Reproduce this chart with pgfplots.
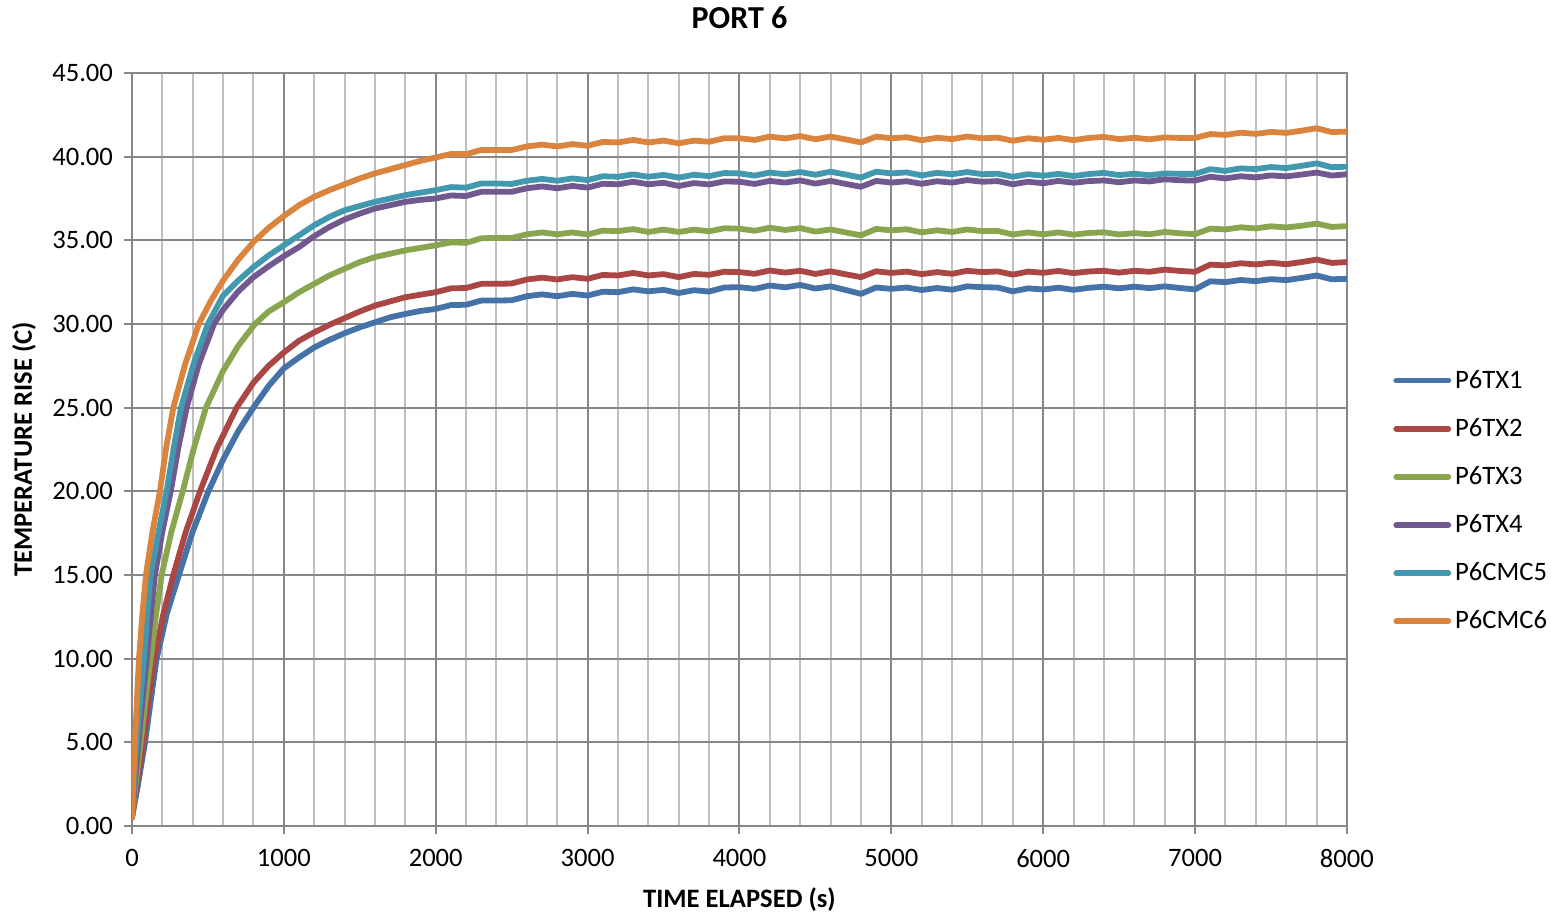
\documentclass[border=0pt]{standalone}
\usepackage{fontspec}
\setmainfont{Carlito}
\usepackage{pgfplots}
\pgfplotsset{compat=1.18}

\definecolor{sTX1}{HTML}{4572A7}
\definecolor{sTX2}{HTML}{AA4643}
\definecolor{sTX3}{HTML}{89A54E}
\definecolor{sTX4}{HTML}{71588F}
\definecolor{sCMC5}{HTML}{4198AF}
\definecolor{sCMC6}{HTML}{DB843D}
\definecolor{gridmajor}{HTML}{878787}
\definecolor{gridminor}{HTML}{BFBFBF}

\begin{document}
\begin{tikzpicture}
\begin{axis}[
    name=ax,
    at={(0,0)}, anchor=south west,
    scale only axis,
    width=607.5pt, height=376.5pt,
    xmin=0, xmax=8000, ymin=0, ymax=45,
    xtick distance=1000, ytick distance=5,
    minor x tick num=4,
    grid=major, xminorgrids=true,
    major grid style={draw=gridmajor, line width=1pt},
    minor grid style={draw=gridminor, line width=1pt},
    axis line style={draw=gridmajor, line width=1pt},
    tick style={draw=gridmajor, line width=1pt},
    major tick length=4pt, minor tick length=0pt,
    tick align=outside, tick pos=left,
    ticklabel style={font=\fontsize{13.3}{16}\selectfont},
    /pgf/number format/assume math mode=true,
    yticklabel style={xshift=-2pt, /pgf/number format/.cd, fixed, fixed zerofill, precision=2},
    xticklabel style={yshift=-4pt, /pgf/number format/1000 sep={}},
    title={PORT 6},
    title style={font=\fontsize{16}{19}\selectfont\bfseries, inner sep=0pt, at={(axis description cs:0.5,1)}, anchor=center, yshift=21.5pt},
    xlabel={TIME ELAPSED (s)},
    xlabel style={font=\fontsize{13.3}{16}\selectfont\bfseries, inner sep=0pt, at={(axis description cs:0.5,-0.0983)}, anchor=center},
    ylabel={TEMPERATURE RISE (C)},
    ylabel style={font=\fontsize{13.3}{16}\selectfont\bfseries, inner sep=0pt, at={(axis description cs:-0.0889,0.5)}, anchor=center},
    every axis plot/.append style={line width=2.9pt, line join=round, line cap=round},
    legend style={draw=none, fill=none, at={(1.0379,0.4316)}, anchor=west,
        font=\fontsize{13.3}{16}\selectfont, row sep=9.6pt, inner sep=0pt},
    legend cell align=left,
    legend image code/.code={\draw[#1] (0pt,0pt) -- (26pt,0pt);},
]
% P6TX1
\addplot[sTX1] coordinates {
(0,0.5)(40,2.5)(86,5)(125,7.6)(162,10)(230,12.7)(309,15)(400,17.6)(503,20)(600,21.9)(700,23.6)(799,25)(900,26.3)(1000,27.35)(1100,28.0)(1200,28.6)(1300,29.05)(1400,29.45)(1500,29.8)(1600,30.1)(1700,30.4)(1800,30.6)(1900,30.78)
(2000,30.9)(2100,31.13)(2200,31.15)(2300,31.4)(2400,31.4)(2500,31.42)(2600,31.66)(2700,31.77)(2800,31.66)(2900,31.8)(3000,31.7)(3100,31.93)(3200,31.9)(3300,32.07)(3400,31.95)(3500,32.04)(3600,31.85)(3700,32.02)(3800,31.94)(3900,32.18)(4000,32.2)(4100,32.1)(4200,32.3)(4300,32.19)(4400,32.33)(4500,32.12)(4600,32.25)(4700,32.03)(4800,31.8)(4900,32.18)(5000,32.1)(5100,32.18)(5200,32.03)(5300,32.15)(5400,32.05)(5500,32.25)(5600,32.2)(5700,32.18)(5800,31.95)(5900,32.13)(6000,32.06)(6100,32.17)(6200,32.04)(6300,32.16)(6400,32.23)(6500,32.13)(6600,32.23)(6700,32.14)(6800,32.25)(6900,32.15)(7000,32.07)(7100,32.55)(7200,32.5)(7300,32.63)(7400,32.56)(7500,32.68)(7600,32.62)(7700,32.75)(7800,32.9)(7900,32.67)(8000,32.7)
};
\addlegendentry{P6TX1}
% P6TX2
\addplot[sTX2] coordinates {
(0,0.5)(35,2.6)(75,5)(110,7.6)(147,10)(205,12.6)(272,15)(355,17.6)(448,20)(560,22.6)(689,25)(800,26.5)(900,27.5)(1000,28.3)(1100,29.0)(1200,29.5)(1300,29.95)(1400,30.35)(1500,30.75)(1600,31.1)(1700,31.35)(1800,31.6)(1900,31.75)
(2000,31.9)(2100,32.13)(2200,32.15)(2300,32.4)(2400,32.4)(2500,32.42)(2600,32.66)(2700,32.77)(2800,32.66)(2900,32.8)(3000,32.7)(3100,32.93)(3200,32.9)(3300,33.05)(3400,32.9)(3500,32.98)(3600,32.8)(3700,32.99)(3800,32.94)(3900,33.12)(4000,33.1)(4100,33.0)(4200,33.2)(4300,33.07)(4400,33.18)(4500,32.99)(4600,33.15)(4700,32.97)(4800,32.8)(4900,33.15)(5000,33.05)(5100,33.13)(5200,32.98)(5300,33.1)(5400,33.0)(5500,33.18)(5600,33.1)(5700,33.14)(5800,32.95)(5900,33.13)(6000,33.06)(6100,33.17)(6200,33.04)(6300,33.14)(6400,33.18)(6500,33.07)(6600,33.18)(6700,33.12)(6800,33.25)(6900,33.17)(7000,33.12)(7100,33.55)(7200,33.5)(7300,33.63)(7400,33.56)(7500,33.66)(7600,33.57)(7700,33.7)(7800,33.85)(7900,33.65)(8000,33.7)
};
\addlegendentry{P6TX2}
% P6TX3
\addplot[sTX3] coordinates {
(0,0.5)(28,2.8)(57,5)(90,7.6)(123,10)(158,12.6)(195,15)(260,17.6)(334,20)(405,22.5)(487,25)(600,27.2)(700,28.7)(810,30)(900,30.75)(1000,31.3)(1100,31.9)(1200,32.4)(1300,32.9)(1400,33.3)(1500,33.7)(1600,34.0)(1700,34.2)(1800,34.4)(1900,34.55)
(2000,34.7)(2100,34.88)(2200,34.85)(2300,35.12)(2400,35.15)(2500,35.14)(2600,35.36)(2700,35.47)(2800,35.36)(2900,35.47)(3000,35.35)(3100,35.58)(3200,35.55)(3300,35.67)(3400,35.5)(3500,35.64)(3600,35.5)(3700,35.64)(3800,35.54)(3900,35.72)(4000,35.7)(4100,35.57)(4200,35.75)(4300,35.62)(4400,35.73)(4500,35.52)(4600,35.65)(4700,35.47)(4800,35.3)(4900,35.68)(5000,35.6)(5100,35.66)(5200,35.48)(5300,35.6)(5400,35.5)(5500,35.65)(5600,35.55)(5700,35.56)(5800,35.35)(5900,35.47)(6000,35.36)(6100,35.47)(6200,35.34)(6300,35.44)(6400,35.48)(6500,35.35)(6600,35.43)(6700,35.36)(6800,35.5)(6900,35.42)(7000,35.37)(7100,35.7)(7200,35.65)(7300,35.78)(7400,35.71)(7500,35.84)(7600,35.77)(7700,35.87)(7800,36.0)(7900,35.8)(8000,35.85)
};
\addlegendentry{P6TX3}
% P6TX4
\addplot[sTX4] coordinates {
(0,0.5)(20,2.7)(42,5)(70,7.6)(97,10)(124,12.6)(151,15)(200,17.6)(255,20)(305,22.6)(360,25)(440,27.6)(540,30)(600,30.85)(700,31.95)(800,32.8)(900,33.45)(1000,34.05)(1100,34.6)(1200,35.25)(1300,35.8)(1400,36.25)(1500,36.6)(1600,36.9)(1700,37.1)(1800,37.3)(1900,37.42)
(2000,37.5)(2100,37.68)(2200,37.65)(2300,37.9)(2400,37.9)(2500,37.9)(2600,38.11)(2700,38.22)(2800,38.11)(2900,38.25)(3000,38.15)(3100,38.38)(3200,38.35)(3300,38.5)(3400,38.35)(3500,38.44)(3600,38.25)(3700,38.42)(3800,38.34)(3900,38.52)(4000,38.5)(4100,38.37)(4200,38.55)(4300,38.45)(4400,38.58)(4500,38.39)(4600,38.55)(4700,38.37)(4800,38.2)(4900,38.55)(5000,38.45)(5100,38.53)(5200,38.38)(5300,38.53)(5400,38.45)(5500,38.6)(5600,38.5)(5700,38.54)(5800,38.35)(5900,38.5)(6000,38.41)(6100,38.55)(6200,38.44)(6300,38.54)(6400,38.58)(6500,38.47)(6600,38.58)(6700,38.52)(6800,38.65)(6900,38.59)(7000,38.57)(7100,38.8)(7200,38.7)(7300,38.83)(7400,38.76)(7500,38.88)(7600,38.82)(7700,38.93)(7800,39.05)(7900,38.87)(8000,38.95)
};
\addlegendentry{P6TX4}
% P6CMC5
\addplot[sCMC5] coordinates {
(0,0.5)(14,2.7)(31,5)(55,7.6)(79,10)(100,12.6)(123,15)(175,17.6)(228,20)(275,22.6)(323,25)(405,27.6)(500,30)(600,31.7)(700,32.6)(800,33.4)(900,34.1)(1000,34.7)(1100,35.3)(1200,35.9)(1300,36.4)(1400,36.8)(1500,37.05)(1600,37.3)(1700,37.5)(1800,37.7)(1900,37.85)
(2000,38.0)(2100,38.18)(2200,38.15)(2300,38.4)(2400,38.4)(2500,38.37)(2600,38.56)(2700,38.67)(2800,38.56)(2900,38.7)(3000,38.6)(3100,38.83)(3200,38.8)(3300,38.94)(3400,38.8)(3500,38.91)(3600,38.75)(3700,38.92)(3800,38.84)(3900,39.02)(4000,39.0)(4100,38.87)(4200,39.05)(4300,38.95)(4400,39.08)(4500,38.92)(4600,39.1)(4700,38.93)(4800,38.75)(4900,39.1)(5000,39.0)(5100,39.06)(5200,38.88)(5300,39.03)(5400,38.95)(5500,39.08)(5600,38.95)(5700,38.98)(5800,38.8)(5900,38.95)(6000,38.86)(6100,38.97)(6200,38.84)(6300,38.96)(6400,39.03)(6500,38.9)(6600,38.98)(6700,38.89)(6800,39.0)(6900,38.97)(7000,38.97)(7100,39.25)(7200,39.15)(7300,39.3)(7400,39.26)(7500,39.38)(7600,39.32)(7700,39.45)(7800,39.6)(7900,39.37)(8000,39.4)
};
\addlegendentry{P6CMC5}
% P6CMC6
\addplot[sCMC6] coordinates {
(0,0.5)(8,2.7)(20,5)(33,7.6)(46,10)(68,12.6)(92,15)(135,17.6)(184,20)(225,22.6)(272,25)(350,27.6)(440,30)(520,31.4)(600,32.6)(700,33.85)(800,34.9)(900,35.75)(1000,36.45)(1100,37.1)(1200,37.6)(1300,38.0)(1400,38.35)(1500,38.7)(1600,39.0)(1700,39.25)(1800,39.5)(1900,39.75)
(2000,39.95)(2100,40.16)(2200,40.15)(2300,40.4)(2400,40.4)(2500,40.4)(2600,40.61)(2700,40.72)(2800,40.61)(2900,40.75)(3000,40.65)(3100,40.88)(3200,40.85)(3300,41.0)(3400,40.85)(3500,40.96)(3600,40.8)(3700,40.96)(3800,40.89)(3900,41.1)(4000,41.1)(4100,41.0)(4200,41.2)(4300,41.09)(4400,41.23)(4500,41.04)(4600,41.2)(4700,41.03)(4800,40.85)(4900,41.2)(5000,41.1)(5100,41.16)(5200,40.98)(5300,41.13)(5400,41.05)(5500,41.2)(5600,41.1)(5700,41.14)(5800,40.95)(5900,41.1)(6000,41.01)(6100,41.12)(6200,40.99)(6300,41.12)(6400,41.18)(6500,41.05)(6600,41.13)(6700,41.04)(6800,41.15)(6900,41.12)(7000,41.12)(7100,41.35)(7200,41.3)(7300,41.43)(7400,41.36)(7500,41.48)(7600,41.42)(7700,41.55)(7800,41.7)(7900,41.47)(8000,41.5)
};
\addlegendentry{P6CMC6}
\end{axis}
\path (ax.south west) ++(-66pt,-44.5pt) coordinate (bbA);
\path (ax.north east) ++(102pt,36.5pt) coordinate (bbB);
\path (bbA) rectangle (bbB);
\end{tikzpicture}
\end{document}
